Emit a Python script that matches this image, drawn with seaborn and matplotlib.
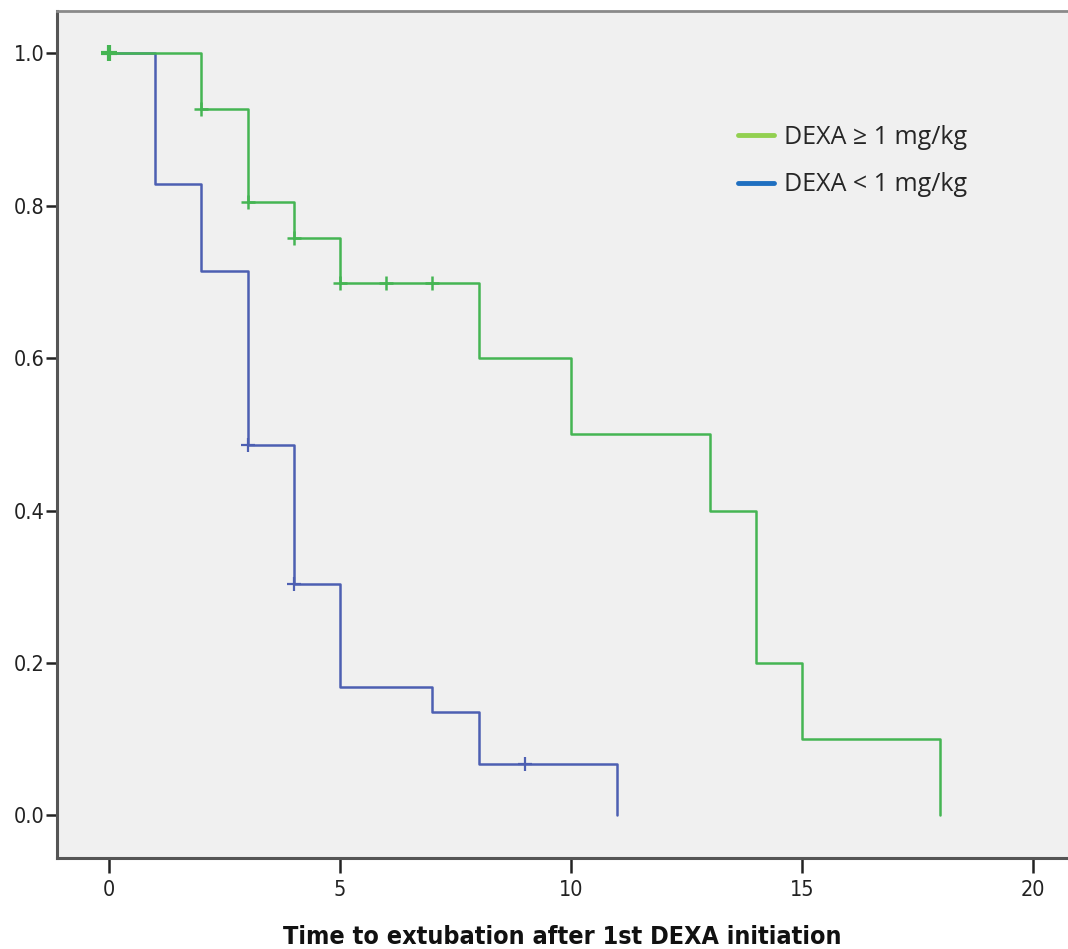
import matplotlib
matplotlib.use("Agg")
import matplotlib.pyplot as plt
from matplotlib import font_manager
from matplotlib.font_manager import FontProperties
from matplotlib.lines import Line2D
import seaborn as sns
import pandas as pd

# ---- data ----
high_times = [0, 2, 3, 4, 5, 8, 10, 13, 14, 15, 18]
high_surv = [1.0, 0.927, 0.805, 0.758, 0.699, 0.6, 0.5, 0.4, 0.2, 0.1, 0.0]
high_cens_t = [0, 2, 3, 4, 5, 6, 7]
high_cens_s = [1.0, 0.927, 0.805, 0.758, 0.699, 0.699, 0.699]

low_times = [0, 1, 2, 3, 4, 5, 7, 8, 11]
low_surv = [1.0, 0.828, 0.714, 0.486, 0.303, 0.168, 0.135, 0.067, 0.0]
low_cens_t = [3, 4, 9]
low_cens_s = [0.486, 0.303, 0.067]

labels = ["DEXA \u2265 1 mg/kg", "DEXA < 1 mg/kg"]
x_ticks = [0, 5, 10, 15, 20]
y_ticks = [0.0, 0.2, 0.4, 0.6, 0.8, 1.0]
xlabel = "Time to extubation after 1st DEXA initiation"

# ---- fonts: look for a condensed sans face ----
def find_face(bold):
    best = None
    for f in font_manager.fontManager.ttflist:
        fn = f.fname.lower()
        if not ("narrow" in fn or "condensed" in fn):
            continue
        if "mono" in fn or ("serif" in fn and "sans" not in fn):
            continue
        wt = f.weight if isinstance(f.weight, int) else (700 if "bold" in str(f.weight) else 400)
        if f.style != "normal":
            continue
        if bold and wt < 600:
            continue
        if not bold and wt >= 600:
            continue
        if "liberation" in fn:
            score = 3
        elif "dejavu" in fn:
            score = 2
        else:
            score = 1
        if best is None or score > best[0]:
            best = (score, f.fname)
    return best[1] if best else None

reg_file = find_face(False)
bold_file = find_face(True)
tick_fp = FontProperties(fname=reg_file) if reg_file else FontProperties(family="DejaVu Sans")
lab_fp = FontProperties(fname=bold_file) if bold_file else FontProperties(family="DejaVu Sans", weight="bold")
legfont = "Open Sans" if "Open Sans" in {f.name for f in font_manager.fontManager.ttflist} else "DejaVu Sans"

sns.set_theme(style="white")
plt.rcParams["font.family"] = ["DejaVu Sans"]

fig = plt.figure(figsize=(10.68, 9.49), dpi=100)
ax = fig.add_axes([57 / 1068, (949 - 858) / 949, 1 - 57 / 1068, (858 - 11) / 949])
ax.set_facecolor("#f0f0f0")

green = "#45b553"
blue = "#4d5fb2"

df_h = pd.DataFrame({"t": high_times, "s": high_surv})
df_l = pd.DataFrame({"t": low_times, "s": low_surv})
sns.lineplot(data=df_l, x="t", y="s", ax=ax, color=blue, lw=1.8,
             drawstyle="steps-post", estimator=None, sort=False)
sns.lineplot(data=df_h, x="t", y="s", ax=ax, color=green, lw=1.8,
             drawstyle="steps-post", estimator=None, sort=False)

dfc_l = pd.DataFrame({"t": low_cens_t, "s": low_cens_s})
dfc_h = pd.DataFrame({"t": high_cens_t, "s": high_cens_s})
sns.scatterplot(data=dfc_l, x="t", y="s", ax=ax, marker="+", s=110,
                color=blue, linewidth=1.6, zorder=5)
sns.scatterplot(data=dfc_h, x="t", y="s", ax=ax, marker="+", s=110,
                color=green, linewidth=1.8, zorder=5)
ax.plot([0], [1.0], marker="+", ms=11, mew=3.0, color=green, ls="none", zorder=6)

ax.set_xlim(-1.125, 20.76)
ax.set_ylim(-0.056, 1.0555)
ax.set_xticks(x_ticks)
ax.set_xticklabels([str(v) for v in x_ticks])
ax.set_yticks(y_ticks)
ax.set_yticklabels([f"{v:.1f}" for v in y_ticks])

ax.tick_params(axis="x", length=11, width=1.8, color="#222222", pad=5,
               labelcolor="#222222", bottom=True)
ax.tick_params(axis="y", length=8, width=1.8, color="#222222", pad=1,
               labelcolor="#222222", left=True)
for lab in ax.get_xticklabels() + ax.get_yticklabels():
    lab.set_fontproperties(tick_fp)
    lab.set_fontsize(15.5)

for sp in ["left", "bottom"]:
    ax.spines[sp].set_color("#555555")
    ax.spines[sp].set_linewidth(2.2)
ax.spines["top"].set_color("#8a8a8a")
ax.spines["top"].set_linewidth(2.0)
ax.spines["right"].set_visible(False)

ax.set_xlabel(xlabel, fontproperties=lab_fp, fontsize=18, labelpad=18, color="#111111")
ax.set_ylabel("")

handles = [Line2D([0], [0], color="#92d050", lw=3.5),
           Line2D([0], [0], color="#1f6fc0", lw=3.5)]
leg = ax.legend(handles, labels, loc="upper left", bbox_to_anchor=(0.651, 0.892),
                frameon=False, handlelength=1.45, handletextpad=0.4,
                labelspacing=0.9, prop={"family": legfont, "size": 18})

fig.savefig("out.png", dpi=100, facecolor="white")
